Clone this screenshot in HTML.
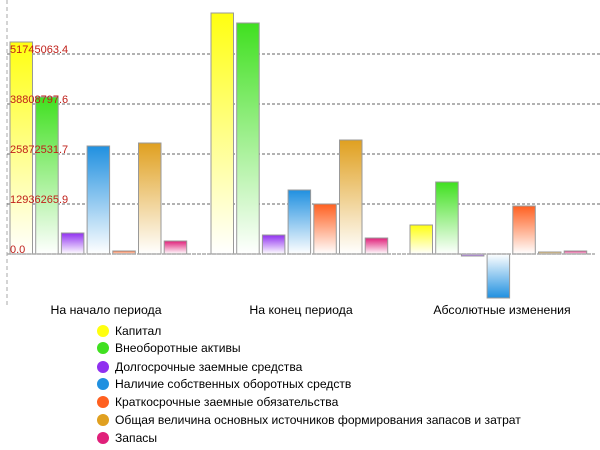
<!DOCTYPE html>
<html><head><meta charset="utf-8"><style>
html,body{margin:0;padding:0;background:#fff;width:600px;height:450px;overflow:hidden}
svg{display:block;font-family:"Liberation Sans",sans-serif}
</style></head><body>
<svg id="s" width="600" height="450" xmlns="http://www.w3.org/2000/svg">
<defs></defs>
<line x1="7" y1="0" x2="7" y2="305" stroke="#aaa" stroke-dasharray="4,3"/>
<g stroke="#666" stroke-dasharray="3,2" stroke-width="1">
<line x1="7" y1="54" x2="600" y2="54"/><line x1="7" y1="104" x2="600" y2="104"/>
<line x1="7" y1="154" x2="600" y2="154"/><line x1="7" y1="204" x2="600" y2="204"/>
</g>
<g id="bars"></g>
<line x1="7" y1="254" x2="595" y2="254" stroke="#aaa" stroke-dasharray="4,1" stroke-width="1.5"/>
<g fill="#c0201a" font-size="11">
<text x="10" y="53">51745063.4</text><text x="10" y="103">38808797.6</text>
<text x="10" y="153">25872531.7</text><text x="10" y="203">12936265.9</text>
<text x="10" y="253">0.0</text>
</g>
<g font-size="12.3" fill="#000" text-anchor="middle">
<text x="106" y="314">На начало периода</text>
<text x="301" y="314">На конец периода</text>
<text x="502" y="314">Абсолютные изменения</text>
</g>
<g id="leg" font-size="12.1" fill="#000"></g>
</svg>
<script>
var cols=["#ffff10","#40e020","#9030f0","#2090e0","#ff6020","#e0a020","#e0207a"];
var names=["Капитал","Внеоборотные активы","Долгосрочные заемные средства","Наличие собственных оборотных средств","Краткосрочные заемные обязательства","Общая величина основных источников формирования запасов и затрат","Запасы"];
var starts=[10,211,410], step=25.7, w=22.5;
var tops=[[42,97,233,146,251,143,241],[13,23,235,190,204,140,238],[225,182,256,298,206,252,251]];
var d=document.querySelector("defs"),b=document.getElementById("bars"),h="",g="";
cols.forEach(function(c,i){
g+='<linearGradient id="g'+i+'" x1="0" y1="0" x2="0" y2="1"><stop offset="0" stop-color="'+c+'"/><stop offset="1" stop-color="#fff"/></linearGradient>';
g+='<linearGradient id="n'+i+'" x1="0" y1="1" x2="0" y2="0"><stop offset="0" stop-color="'+c+'"/><stop offset="1" stop-color="#fff"/></linearGradient>';
});
d.innerHTML=g;
for(var k=0;k<3;k++)for(var i=0;i<7;i++){
var x=starts[k]+i*step,t=tops[k][i],y,hh,f;
if(t<=254){y=t;hh=254-t;f="g"+i;}else{y=254;hh=t-254;f="n"+i;}
if(hh<2)hh=2,y=t<=254?252:254;
h+='<rect x="'+x.toFixed(1)+'" y="'+y+'" width="'+w+'" height="'+hh+'" fill="url(#'+f+')" stroke="#999" stroke-width="1"/>';
}
b.innerHTML=h;
var l="",ys=[331,348,367,384,402,420,438];
for(var i=0;i<7;i++){l+='<circle cx="103" cy="'+ys[i]+'" r="6" fill="'+cols[i]+'"/><text x="115" y="'+(ys[i]+4)+'">'+names[i]+'</text>';}
document.getElementById("leg").innerHTML=l;
</script>
</body></html>
